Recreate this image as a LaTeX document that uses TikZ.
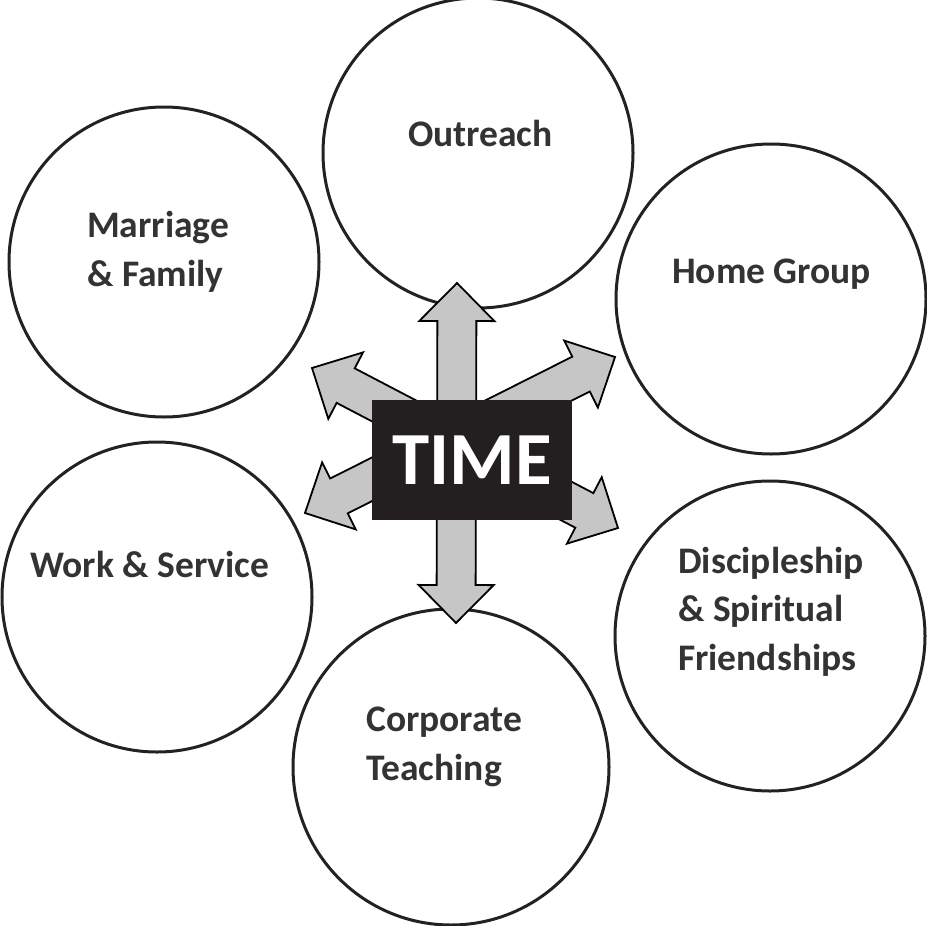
\documentclass[tikz,border=0pt]{standalone}
\usepackage{fontspec}
\setmainfont{Carlito}
\usetikzlibrary{calc}
\definecolor{inkc}{HTML}{222222}
\definecolor{textc}{HTML}{333333}
\definecolor{arrowc}{HTML}{C6C6C6}
\definecolor{boxc}{HTML}{231F20}
\tikzset{
  circ/.style={circle, draw=inkc, line width=3pt, fill=white, minimum size=310pt, inner sep=0pt},
  lbl/.style={anchor=base west, align=left, inner sep=0pt, text=textc,
              font=\bfseries\fontsize{37.5}{48.5}\selectfont},
  blockarrow/.style={draw=black, line width=1.8pt, fill=arrowc, line join=miter},
  timebox/.style={fill=boxc, minimum width=200pt, minimum height=120pt, inner sep=0pt,
              text=white, font=\bfseries\fontsize{75}{80}\selectfont}
}
\newcommand\dblblockarrow[2]{%
  \path[blockarrow] (#1)
    -- ($(#1)!38pt!(#2)!37.5pt!90:(#2)$)
    -- ($(#1)!38pt!(#2)!19.5pt!90:(#2)$)
    -- ($(#2)!38pt!(#1)!19.5pt!-90:(#1)$)
    -- ($(#2)!38pt!(#1)!37.5pt!-90:(#1)$)
    -- (#2)
    -- ($(#2)!38pt!(#1)!37.5pt!90:(#1)$)
    -- ($(#2)!38pt!(#1)!19.5pt!90:(#1)$)
    -- ($(#1)!38pt!(#2)!19.5pt!-90:(#2)$)
    -- ($(#1)!38pt!(#2)!37.5pt!-90:(#2)$)
    -- cycle;}
\begin{document}
\begin{tikzpicture}[x=1pt,y=-1pt]
\useasboundingbox (0,0) rectangle (926,926);
% circles
\node[circ] (outreach) at (478,153) {};
\node[circ] (marriage) at (164,262) {};
\node[circ] (home) at (771,299) {};
\node[circ] (work) at (157,597) {};
\node[circ] (disc) at (770,636) {};
\node[circ, minimum size=316pt] (corp) at (451,767) {};
% labels (anchor = baseline of the last line)
\node[lbl] (outreach-t) at (408,146) {Outreach};
\node[lbl] (marriage-t) at (87,286) {Marriage\\\& Family};
\node[lbl] (home-t) at (672,283) {Home Group};
\node[lbl] (work-t) at (30,577) {Work \& Service};
\node[lbl] (disc-t) at (678,670) {Discipleship\\\& Spiritual\\Friendships};
\node[lbl] (corp-t) at (366,780) {Corporate\\Teaching};
% arrows
\coordinate (vt) at (457,283);
\coordinate (vb) at (456,623);
\coordinate (a1) at (312,368);
\coordinate (a2) at (618,528);
\coordinate (b1) at (305,513);
\coordinate (b2) at (615,357);
\dblblockarrow{vt}{vb}
\dblblockarrow{a1}{a2}
\dblblockarrow{b1}{b2}
% centre box
\node[timebox] (time) at (472,460) {TIME};
\end{tikzpicture}
\end{document}
